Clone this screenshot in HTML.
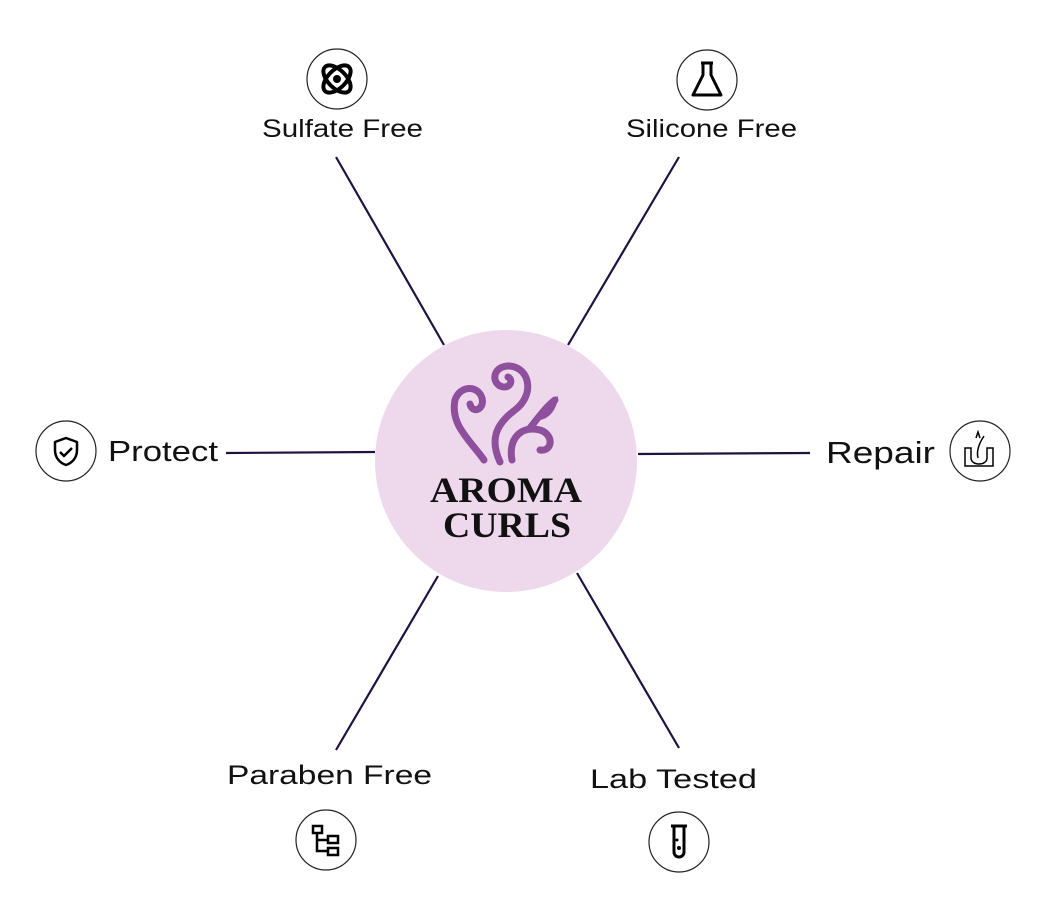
<!DOCTYPE html>
<html><head><meta charset="utf-8"><style>
html,body{margin:0;padding:0;background:#fff;}
svg{display:block;}
text{font-family:"Liberation Sans",sans-serif;fill:#111;}
</style></head><body>
<svg width="1050" height="902" viewBox="0 0 1050 902" xmlns="http://www.w3.org/2000/svg">
<g stroke="#1f1240" stroke-width="2.2" fill="none">
<line x1="336" y1="157" x2="444" y2="345"/>
<line x1="679" y1="157" x2="568" y2="345"/>
<line x1="226" y1="453" x2="375" y2="452"/>
<line x1="638" y1="454" x2="810" y2="453"/>
<line x1="438" y1="576" x2="336" y2="750"/>
<line x1="577" y1="573" x2="679" y2="748"/>
</g>
<circle cx="506" cy="461" r="131" fill="#eed9ec"/>
<g fill="none" stroke="#8e4f9c" stroke-width="7" stroke-linecap="round">
<path d="M484 460 C470 440,450 425,455 400 C460 385,478 385,482 398 C485 410,472 414,470 404"/>
<path d="M500 462 C490 440,495 425,515 410 C535 395,530 368,510 366 C495 365,490 380,500 386 C510 390,514 380,508 377"/>
<path d="M512 460 C508 440,520 425,540 430 C555 435,552 452,540 450"/>
<path d="M530 428 C540 415,548 405,555 400"/>
</g>
<path d="M540 420 C545 405,555 398,558 396 C558 405,552 418,540 420 Z" fill="#8e4f9c"/>
<text x="430" y="502" font-size="36" font-weight="bold" style="font-family:'Liberation Serif',serif" textLength="152" lengthAdjust="spacingAndGlyphs">AROMA</text>
<text x="443" y="537" font-size="36" font-weight="bold" style="font-family:'Liberation Serif',serif" textLength="128" lengthAdjust="spacingAndGlyphs">CURLS</text>
<g fill="#fff" stroke="#222" stroke-width="1.2">
<circle cx="337" cy="79" r="30"/><circle cx="707" cy="80" r="30"/>
<circle cx="66" cy="451" r="30"/><circle cx="980" cy="451" r="30"/>
<circle cx="326" cy="840" r="30"/><circle cx="679" cy="842" r="30"/>
</g>
<g fill="none" stroke="#000" stroke-width="4">
<ellipse cx="337" cy="79" rx="17" ry="9" transform="rotate(45 337 79)"/>
<ellipse cx="337" cy="79" rx="17" ry="9" transform="rotate(-45 337 79)"/>
</g>
<circle cx="337" cy="79" r="4" fill="#000"/>
<path d="M701 63 h12 M703 63 v12 l-10 20 h28 l-10 -20 v-12" fill="none" stroke="#000" stroke-width="3" stroke-linejoin="round"/>
<path d="M66 438 l11 4 v8 c0 8 -5 13 -11 15 c-6 -2 -11 -7 -11 -15 v-8 z M60 452 l4 4 l8 -8" fill="none" stroke="#000" stroke-width="2.5" stroke-linejoin="round"/>
<path d="M965 448 h6 v10 c0 4 4 6 8 6 s8 -2 8 -6 v-10 h6 v18 h-28 z M978 458 c-2 -8 2 -16 6 -22 M976 438 l2 -6 l2 6" fill="none" stroke="#000" stroke-width="1.5"/>
<g fill="none" stroke="#000" stroke-width="2.5">
<rect x="313" y="826" width="9" height="7"/><rect x="328" y="836" width="10" height="7"/><rect x="328" y="848" width="10" height="7"/>
<path d="M317 833 v18 h11 M317 840 h11"/>
</g>
<path d="M671 826 h16 M674 826 v26 a5 5 0 0 0 10 0 v-26" fill="none" stroke="#000" stroke-width="3"/>
<circle cx="679" cy="848" r="2" fill="#000"/><circle cx="677" cy="840" r="1.5" fill="#000"/>
<text x="262" y="137" font-size="25" textLength="161" lengthAdjust="spacingAndGlyphs">Sulfate Free</text>
<text x="626" y="137" font-size="25" textLength="171" lengthAdjust="spacingAndGlyphs">Silicone Free</text>
<text x="108" y="461" font-size="29" textLength="110" lengthAdjust="spacingAndGlyphs">Protect</text>
<text x="826" y="463" font-size="31" textLength="109" lengthAdjust="spacingAndGlyphs">Repair</text>
<text x="227" y="784" font-size="27" textLength="205" lengthAdjust="spacingAndGlyphs">Paraben Free</text>
<text x="590" y="788" font-size="27" textLength="167" lengthAdjust="spacingAndGlyphs">Lab Tested</text>
</svg>
</body></html>
